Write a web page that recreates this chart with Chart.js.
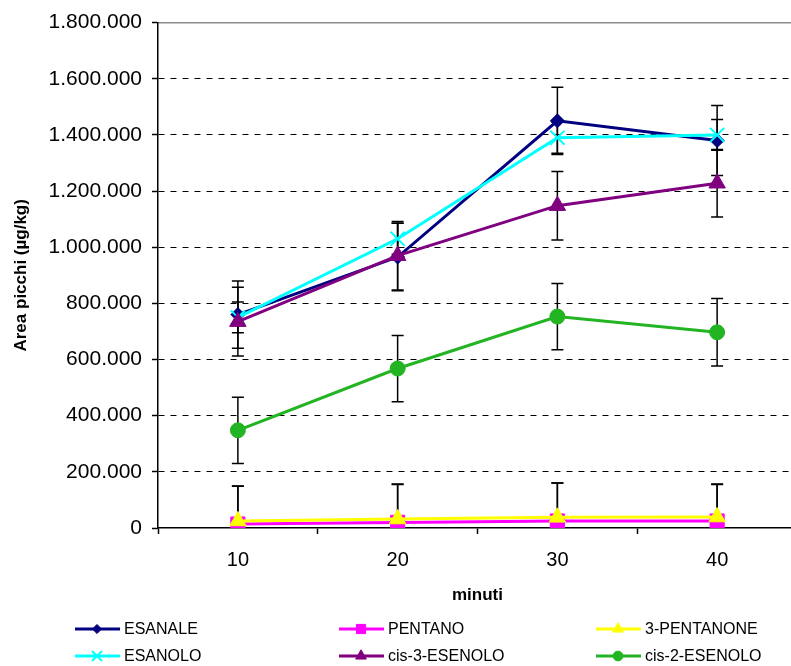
<!DOCTYPE html>
<html>
<head>
<meta charset="utf-8">
<script src="https://cdn.jsdelivr.net/npm/chart.js@4/dist/chart.umd.min.js"></script>
<style>
  html, body { margin: 0; padding: 0; background: #fff; overflow: hidden; }
  #wrap { width: 809px; height: 666px; }
</style>
</head>
<body>
<div id="wrap"><canvas id="myChart" width="809" height="666"></canvas></div>
<script>
// data
let minuti = ["10", "20", "30", "40"];
let yTicks = [0, 200000, 400000, 600000, 800000, 1000000, 1200000, 1400000, 1600000, 1800000];

let esanale = [760000, 965000, 1450000, 1380000];
let esanaleErr = [120000, 120000, 120000, 125000];
let pentano = [14000, 20000, 25000, 25000];
let pentanoErr = [135000, 135000, 135000, 130000];
let pentanone = [25000, 32000, 38000, 39000];
let pentanoneErr = [125000, 125000, 122000, 118000];
let esanolo = [750000, 1030000, 1390000, 1400000];
let esanoloErr = [55000, 55000, 55000, 55000];
let cis3 = [735000, 970000, 1148000, 1228000];
let cis3Err = [122000, 122000, 122000, 120000];
let cis2 = [348000, 568000, 753000, 697000];
let cis2Err = [118000, 118000, 118000, 120000];

const FONT = "'Liberation Sans', Arial, sans-serif";
const ctx = document.getElementById("myChart").getContext("2d");

function itNumber(v) {
    return String(Math.round(v)).replace(/\B(?=(\d{3})+(?!\d))/g, ".");
}

function series(label, data, errors, color, style, radius, order) {
    return {
        label: label,
        data: data,
        errors: errors,
        borderColor: color,
        backgroundColor: color,
        borderWidth: 3,
        pointStyle: style,
        pointRadius: radius,
        pointHoverRadius: radius,
        pointBackgroundColor: color,
        pointBorderColor: color,
        pointBorderWidth: style == "crossRot" ? 2 : 1,
        legendRadius: style == "crossRot" ? 7 : radius * 0.65,
        tension: 0,
        order: order,
    };
}

// black error bars, drawn under the lines
const errorBars = {
    id: "errorBars",
    beforeDatasetsDraw(chart) {
        let c = chart.ctx;
        let y = chart.scales.y;
        let area = chart.chartArea;
        c.save();
        c.beginPath();
        c.rect(area.left, area.top - 20, area.right - area.left, area.bottom - area.top + 20);
        c.clip();
        c.strokeStyle = "#000";
        c.lineWidth = 1.5;
        chart.data.datasets.forEach((ds, i) => {
            let meta = chart.getDatasetMeta(i);
            meta.data.forEach((pt, j) => {
                let top = y.getPixelForValue(ds.data[j] + ds.errors[j]);
                let bottom = y.getPixelForValue(ds.data[j] - ds.errors[j]);
                c.beginPath();
                c.moveTo(pt.x, top);
                c.lineTo(pt.x, bottom);
                c.moveTo(pt.x - 6, top);
                c.lineTo(pt.x + 6, top);
                c.moveTo(pt.x - 6, bottom);
                c.lineTo(pt.x + 6, bottom);
                c.stroke();
            });
        });
        c.restore();
    },
};

// three-column legend under the axis title
const gridLegend = {
    id: "gridLegend",
    afterDraw(chart) {
        let c = chart.ctx;
        let cols = [75, 339, 596];
        let rows = [629, 656];
        c.save();
        chart.data.datasets.forEach((ds, i) => {
            let x = cols[i % 3];
            let y = rows[Math.floor(i / 3)];
            c.strokeStyle = ds.borderColor;
            c.lineWidth = 3;
            c.beginPath();
            c.moveTo(x, y);
            c.lineTo(x + 45, y);
            c.stroke();
            c.fillStyle = ds.backgroundColor;
            c.strokeStyle = ds.borderColor;
            c.lineWidth = ds.pointBorderWidth;
            Chart.helpers.drawPoint(c, {
                pointStyle: ds.pointStyle,
                radius: ds.legendRadius,
                rotation: 0,
                borderWidth: ds.pointBorderWidth,
            }, x + 22, y);
            c.fillStyle = "#000";
            c.font = "16px " + FONT;
            c.textBaseline = "middle";
            c.textAlign = "left";
            c.fillText(ds.label, x + 49, y + 1);
        });
        c.restore();
    },
};

const myChart = new Chart(ctx, {
    type: "line",
    data: {
        labels: minuti,
        datasets: [
            series("ESANALE", esanale, esanaleErr, "#000080", "rectRot", 7, 6),
            series("PENTANO", pentano, pentanoErr, "#ff00ff", "rect", 10, 5),
            series("3-PENTANONE", pentanone, pentanoneErr, "#ffff00", "triangle", 9.5, 4),
            series("ESANOLO", esanolo, esanoloErr, "#00ffff", "crossRot", 10, 3),
            series("cis-3-ESENOLO", cis3, cis3Err, "#800080", "triangle", 9.5, 2),
            series("cis-2-ESENOLO", cis2, cis2Err, "#22b422", "circle", 7.5, 1),
        ],
    },
    options: {
        responsive: false,
        animation: false,
        devicePixelRatio: 1,
        layout: {
            padding: { top: 22, right: 3, bottom: 0, left: 0 },
        },
        plugins: {
            legend: { display: false },
            tooltip: { enabled: false },
        },
        scales: {
            x: {
                type: "category",
                offset: true,
                grid: {
                    offset: true,
                    drawOnChartArea: false,
                    drawTicks: true,
                    tickLength: 6,
                    tickColor: "#000",
                    tickWidth: 1.5,
                },
                border: { display: true, color: "#000", width: 1.5 },
                ticks: {
                    color: "#000",
                    padding: 14,
                    font: { family: FONT, size: 20 },
                },
                title: {
                    display: true,
                    text: "minuti",
                    color: "#000",
                    font: { family: FONT, size: 17, weight: "bold" },
                    padding: { top: 0, bottom: 60 },
                },
                afterFit: (scale) => {
                    scale.height = 138;
                },
            },
            x2: {
                type: "category",
                position: "top",
                grid: { display: false, drawTicks: false },
                ticks: { display: false },
                border: { display: true, color: "#8c8c8c", width: 1.5 },
            },
            y: {
                min: 0,
                max: 1800000,
                afterBuildTicks: (scale) => {
                    scale.ticks = yTicks.map((v) => ({ value: v }));
                },
                grid: {
                    color: (c) => (c.tick && (c.tick.value == 0 || c.tick.value == 1800000) ? "rgba(0,0,0,0)" : "#000"),
                    lineWidth: 1,
                    tickLength: 6,
                    tickColor: "#000",
                    tickWidth: 1.5,
                    tickBorderDash: [],
                },
                border: { display: true, color: "#000", width: 1.5, dash: [6, 6] },
                ticks: {
                    color: "#000",
                    padding: 10,
                    font: { family: FONT, size: 21 },
                    callback: (v) => itNumber(v),
                },
                title: {
                    display: true,
                    text: "Area picchi (µg/kg)",
                    color: "#000",
                    font: { family: FONT, size: 17, weight: "bold" },
                    padding: { top: 11, bottom: 0 },
                },
                afterFit: (scale) => {
                    scale.width = 158;
                },
            },
        },
    },
    plugins: [errorBars, gridLegend],
});
</script>
</body>
</html>
